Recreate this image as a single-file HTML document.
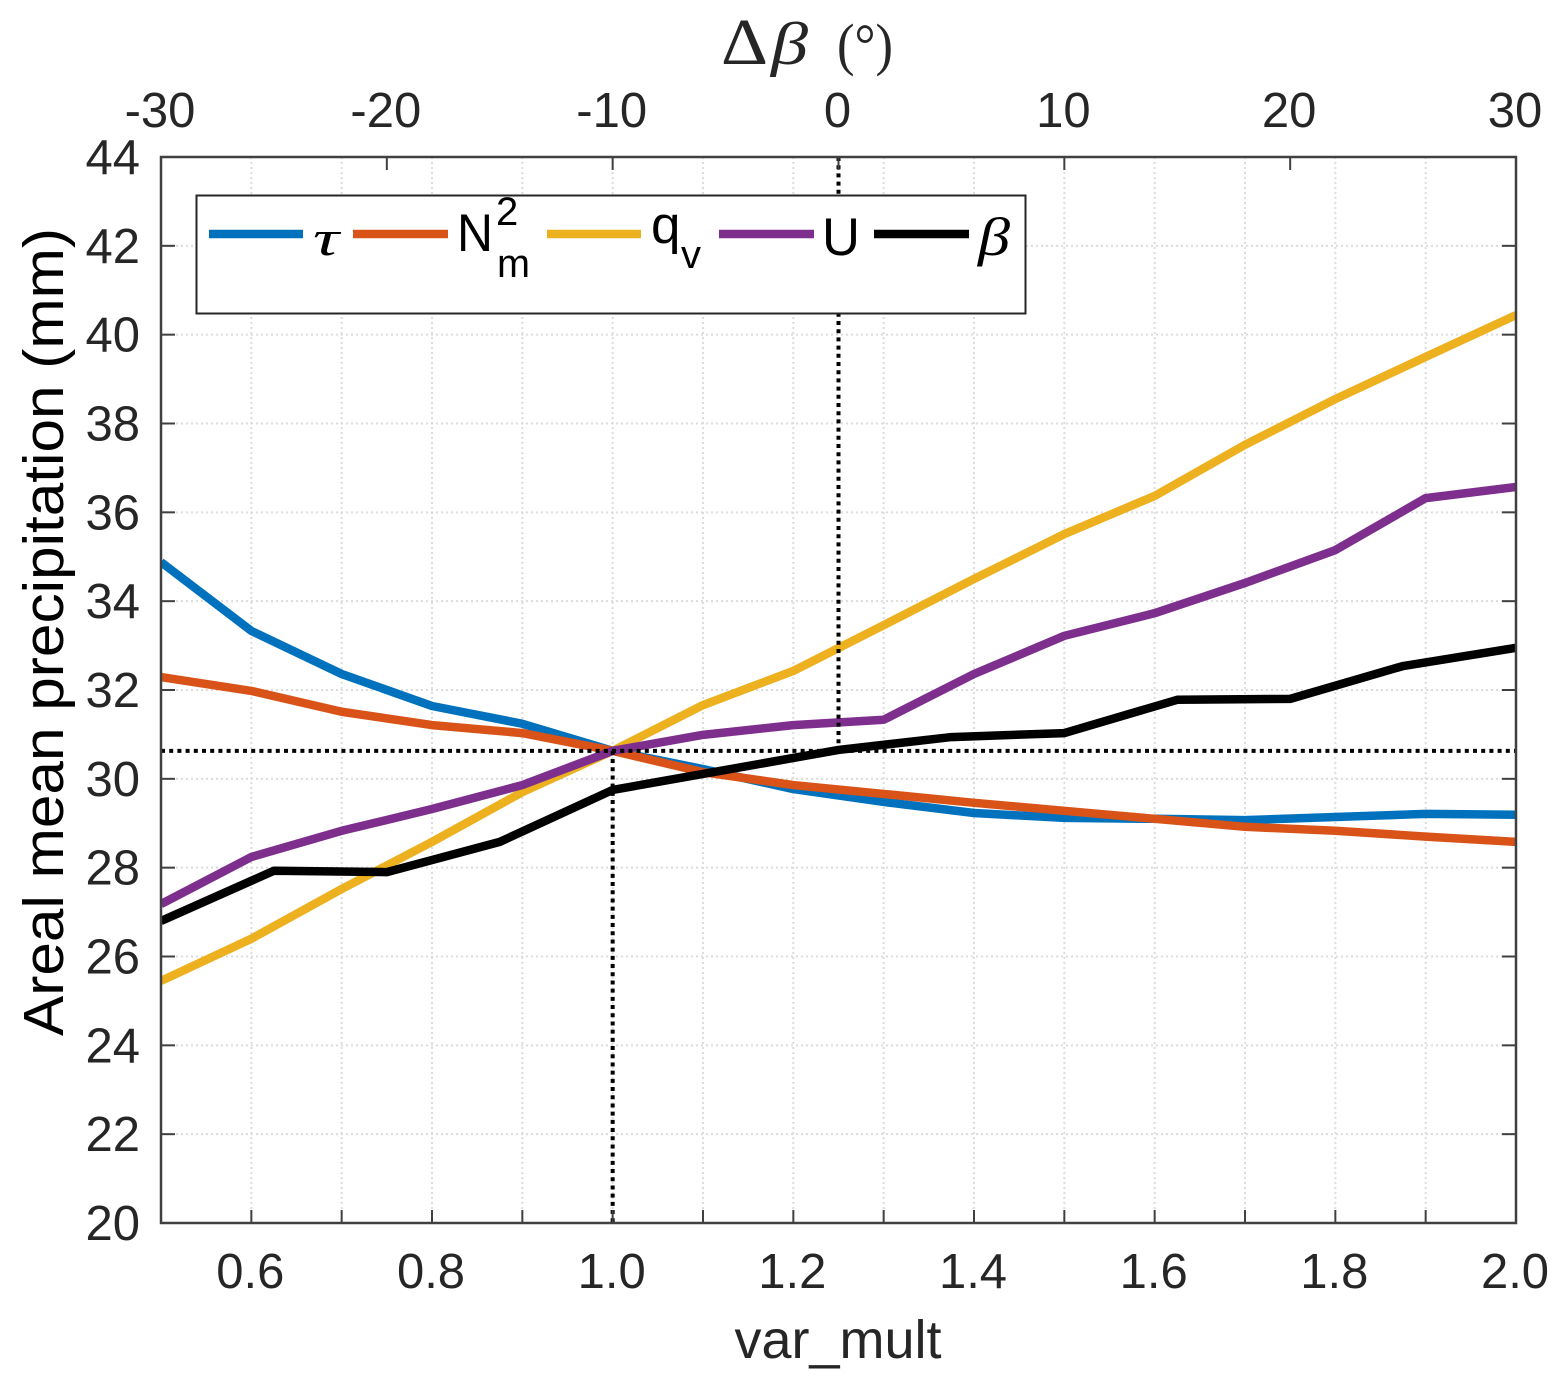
<!DOCTYPE html>
<html lang="en">
<head>
<meta charset="utf-8">
<title>Areal mean precipitation vs var_mult</title>
<style>
html,body{margin:0;padding:0;background:#fff;}
svg{display:block;font-family:"Liberation Sans",sans-serif;}
</style>
</head>
<body>
<svg id="chart" xmlns="http://www.w3.org/2000/svg" width="1566" height="1380" viewBox="0 0 1566 1380">
  <defs>
    <clipPath id="plot-clip"><rect x="161" y="157" width="1355" height="1066"></rect></clipPath>
  </defs>
  <rect x="0" y="0" width="1566" height="1380" fill="#ffffff"></rect>
  <g id="grid"></g>
  <g id="series" clip-path="url(#plot-clip)"></g>
  <g id="refs"></g>
  <g id="axes"></g>

  <text transform="translate(63,632) rotate(-90)" text-anchor="middle" font-size="57" fill="#000000" textLength="808" lengthAdjust="spacingAndGlyphs">Areal mean precipitation (mm)</text>
  <text x="838" y="1358" text-anchor="middle" font-size="54" fill="#262626" textLength="207" lengthAdjust="spacingAndGlyphs">var_mult</text>
  <g fill="#262626">
    <text x="721" y="64" font-family="'Liberation Serif',serif" font-size="66" textLength="47" lengthAdjust="spacingAndGlyphs">Δ</text>
    <text x="771" y="64" font-family="'Liberation Serif',serif" font-style="italic" font-size="60" textLength="37" lengthAdjust="spacingAndGlyphs">β</text>
    <text x="837" y="64" font-family="'Liberation Serif',serif" font-size="58" textLength="56" lengthAdjust="spacingAndGlyphs">(°)</text>
  </g>

  <g>
    <rect x="196.5" y="195.5" width="829" height="118" fill="#ffffff" stroke="#262626" stroke-width="2"></rect>
    <line x1="209" y1="234" x2="303" y2="234" stroke="#0072BD" stroke-width="8.5"></line>
    <text x="313" y="255" font-family="'Liberation Serif',serif" font-style="italic" font-size="50" fill="#000" textLength="26" lengthAdjust="spacingAndGlyphs">τ</text>
    <line x1="353" y1="234" x2="448" y2="234" stroke="#D95319" stroke-width="8.5"></line>
    <text x="457" y="251" font-size="53" fill="#000" textLength="36" lengthAdjust="spacingAndGlyphs">N</text>
    <text x="496" y="225" font-size="40" fill="#000">2</text>
    <text x="497" y="277" font-size="40" fill="#000" textLength="33" lengthAdjust="spacingAndGlyphs">m</text>
    <line x1="547" y1="234" x2="641" y2="234" stroke="#EDB120" stroke-width="8.5"></line>
    <text x="651" y="243" font-size="53" fill="#000">q</text>
    <text x="681" y="268" font-size="40" fill="#000">v</text>
    <line x1="719" y1="234" x2="814" y2="234" stroke="#7E2F8E" stroke-width="8.5"></line>
    <text x="822" y="255" font-size="53" fill="#000" textLength="38" lengthAdjust="spacingAndGlyphs">U</text>
    <line x1="874" y1="234" x2="969" y2="234" stroke="#000000" stroke-width="8.5"></line>
    <text x="978" y="255" font-family="'Liberation Serif',serif" font-style="italic" font-size="54" fill="#000" textLength="32" lengthAdjust="spacingAndGlyphs">β</text>
  </g>
</svg>

<script>
// ----- data -----
const varMult = [0.5,0.6,0.7,0.8,0.9,1.0,1.1,1.2,1.3,1.4,1.5,1.6,1.7,1.8,1.9,2.0];
const deltaBeta = [-30,-25,-20,-15,-10,-5,0,5,10,15,20,25,30];
const tauValues = [34.88,33.33,32.36,31.64,31.24,30.63,30.22,29.77,29.48,29.23,29.12,29.10,29.07,29.14,29.21,29.19];
const n2mValues = [32.29,31.98,31.51,31.21,31.03,30.63,30.15,29.86,29.66,29.46,29.28,29.10,28.92,28.83,28.70,28.58];
const qvValues = [25.45,26.40,27.52,28.58,29.70,30.63,31.66,32.43,33.46,34.50,35.51,36.37,37.52,38.55,39.50,40.44];
const uValues = [27.18,28.24,28.83,29.32,29.86,30.63,30.99,31.21,31.33,32.36,33.22,33.73,34.41,35.15,36.32,36.57];
const betaValues = [26.80,27.93,27.90,28.58,29.75,30.20,30.65,30.94,31.03,31.78,31.80,32.54,32.95];
const bottomTicks = [0.6,0.8,1.0,1.2,1.4,1.6,1.8,2.0];
const bottomTickMarks = [0.6,0.7,0.8,0.9,1.0,1.1,1.2,1.3,1.4,1.5,1.6,1.7,1.8,1.9];
const topTicks = [-30,-20,-10,0,10,20,30];
const yTicks = [20,22,24,26,28,30,32,34,36,38,40,42,44];
const refValue = 30.63;
const refVarMult = 1.0;
const refDeltaBeta = 0;

// ----- axis functions -----
function xScale(v){ return 161 + (v - 0.5) / 1.5 * 1355; }
function topScale(d){ return 161 + (d + 30) / 60 * 1355; }
function yScale(v){ return 1223 - (v - 20) / 24 * 1066; }

const SVGNS = 'http://www.w3.org/2000/svg';
const gridG = document.getElementById('grid');
const seriesG = document.getElementById('series');
const refsG = document.getElementById('refs');
const axesG = document.getElementById('axes');

function drawLine(parent, x1, y1, x2, y2, stroke, width, dash){
  const el = document.createElementNS(SVGNS, 'line');
  el.setAttribute('x1', x1);
  el.setAttribute('y1', y1);
  el.setAttribute('x2', x2);
  el.setAttribute('y2', y2);
  el.setAttribute('stroke', stroke);
  el.setAttribute('stroke-width', width);
  if (dash) el.setAttribute('stroke-dasharray', dash);
  parent.appendChild(el);
  return el;
}
function drawLabel(parent, x, y, anchor, str){
  const el = document.createElementNS(SVGNS, 'text');
  el.setAttribute('x', x);
  el.setAttribute('y', y);
  el.setAttribute('text-anchor', anchor);
  el.setAttribute('font-size', '49');
  el.setAttribute('fill', '#262626');
  el.textContent = str;
  parent.appendChild(el);
  return el;
}
function drawSeries(xs, ys, scaleX, color){
  const el = document.createElementNS(SVGNS, 'polyline');
  el.setAttribute('points', xs.map(function(x, i){ return scaleX(x).toFixed(2) + ',' + yScale(ys[i]).toFixed(2); }).join(' '));
  el.setAttribute('fill', 'none');
  el.setAttribute('stroke', color);
  el.setAttribute('stroke-width', '8.5');
  el.setAttribute('stroke-linejoin', 'round');
  seriesG.appendChild(el);
  return el;
}

// ----- grid -----
bottomTickMarks.forEach(function(v){
  const g = drawLine(gridG, xScale(v), 157, xScale(v), 1223, '#dcdcdc', 2, '2 3');
  
  
});
yTicks.forEach(function(v){
  const g = drawLine(gridG, 161, yScale(v), 1516, yScale(v), '#dcdcdc', 2, '2 3');
  
  
});

// ----- series -----
const lineTau = drawSeries(varMult, tauValues, xScale, '#0072BD');


const lineN2m = drawSeries(varMult, n2mValues, xScale, '#D95319');


const lineQv = drawSeries(varMult, qvValues, xScale, '#EDB120');


const lineU = drawSeries(varMult, uValues, xScale, '#7E2F8E');


const lineBeta = drawSeries(deltaBeta, betaValues, topScale, '#000000');



// ----- reference lines -----
const refH = drawLine(refsG, 161, yScale(refValue), 1516, yScale(refValue), '#000000', 4, '4 4.2');


const refV1 = drawLine(refsG, xScale(refVarMult), yScale(refValue), xScale(refVarMult), 1223, '#000000', 4, '4 4.2');


const refV2 = drawLine(refsG, topScale(refDeltaBeta), 157, topScale(refDeltaBeta), yScale(refValue), '#000000', 4, '4 4.2');



// ----- axes and ticks -----
const frame = document.createElementNS(SVGNS, 'rect');
frame.setAttribute('x', '161');
frame.setAttribute('y', '157');
frame.setAttribute('width', '1355');
frame.setAttribute('height', '1066');
frame.setAttribute('fill', 'none');
frame.setAttribute('stroke', '#404040');
frame.setAttribute('stroke-width', '2.5');


axesG.appendChild(frame);

bottomTickMarks.forEach(function(v){
  const t = drawLine(axesG, xScale(v), 1223, xScale(v), 1210, '#404040', 2);
  
  
});
bottomTicks.forEach(function(v){
  const l = drawLabel(axesG, xScale(v) - 1, 1288, 'middle', v.toFixed(1));
  
  
});
topTicks.forEach(function(v){
  const t = drawLine(axesG, topScale(v), 157, topScale(v), 170, '#404040', 2);
  
  
  const l = drawLabel(axesG, topScale(v) - 1, 127, 'middle', String(v));
  
  
});
yTicks.forEach(function(v){
  const left = drawLine(axesG, 161, yScale(v), 175, yScale(v), '#404040', 2);
  
  
  const right = drawLine(axesG, 1516, yScale(v), 1502, yScale(v), '#404040', 2);
  
  
  const l = drawLabel(axesG, 140, yScale(v) + 17, 'end', String(v));
  
  
});
</script>
</body>
</html>
